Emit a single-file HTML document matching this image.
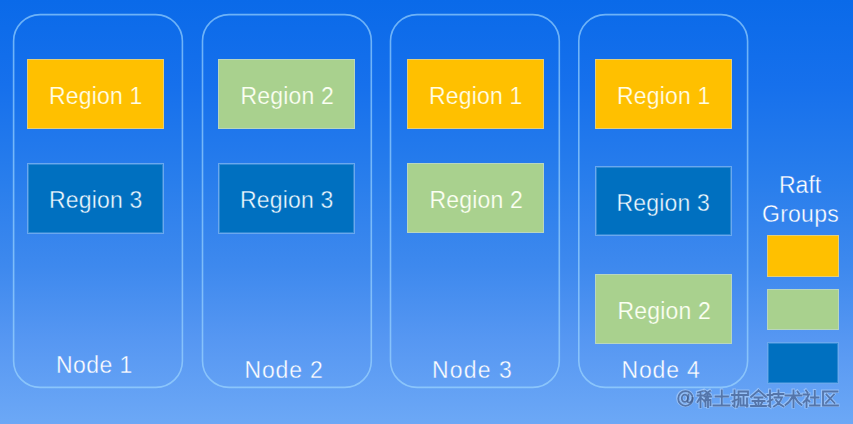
<!DOCTYPE html>
<html>
<head>
<meta charset="utf-8">
<style>
html,body{margin:0;padding:0;}
body{width:853px;height:424px;overflow:hidden;position:relative;
  background:linear-gradient(to bottom,rgb(10,106,233) 0%,rgb(22,112,236) 20%,rgb(41,126,236) 43%,rgb(62,137,238) 63%,rgb(86,151,242) 80%,rgb(108,168,246) 100%);
  font-family:"Liberation Sans",sans-serif;color:#fff;}
.node{position:absolute;top:14px;width:170px;height:374px;box-sizing:border-box;
  border:1.5px solid rgba(160,215,255,0.7);border-radius:27px;}
.box{position:absolute;width:137px;height:70px;box-sizing:border-box;border:1px solid rgba(200,220,240,0.5);}
.y{background:#ffc000;}
.g{background:#a9d18e;}
.b{background:#0070c0;border:1px solid #6aa8ee;box-shadow:inset 0 0 0 1px rgba(106,168,238,0.45);height:71px;}
.t{position:absolute;font-size:23px;line-height:23px;white-space:nowrap;}
.n{letter-spacing:0.85px;-webkit-text-stroke:0.35px rgb(93,157,243);}
.ty{-webkit-text-stroke:0.2px #ffc000;color:#fffee6;}
.tg{-webkit-text-stroke:0.2px #a9d18e;color:#fbfff2;}
.tb{-webkit-text-stroke:0.35px #0070c0;color:#eefaff;}
.tl{-webkit-text-stroke:0.35px rgb(45,128,236);}
</style>
</head>
<body>
<svg style="position:absolute;left:0;top:0" width="853" height="424">
<g fill="none" stroke="rgba(160,215,255,0.66)" stroke-width="1.6">
<rect x="13.6" y="14.6" width="168.8" height="372.8" rx="26.5"/>
<rect x="202.5" y="14.6" width="168.8" height="372.8" rx="26.5"/>
<rect x="390.5" y="14.6" width="168.8" height="372.8" rx="26.5"/>
<rect x="578.8" y="14.6" width="168.8" height="372.8" rx="26.5"/>
</g>
</svg>

<div class="box y" style="left:27px;top:59px"></div>
<div class="box b" style="left:27px;top:163px"></div>
<div class="box g" style="left:218px;top:59px"></div>
<div class="box b" style="left:218px;top:163px"></div>
<div class="box y" style="left:407px;top:59px"></div>
<div class="box g" style="left:407px;top:163px"></div>
<div class="box y" style="left:595px;top:59px"></div>
<div class="box b" style="left:595px;top:166px;height:70px"></div>
<div class="box g" style="left:595px;top:274px"></div>

<div class="t ty" style="left:48.9px;top:85px;letter-spacing:0.2px">Region 1</div>
<div class="t tb" style="left:48.9px;top:189px;letter-spacing:0.2px">Region 3</div>
<div class="t tg" style="left:240.4px;top:85px;letter-spacing:0.2px">Region 2</div>
<div class="t tb" style="left:239.9px;top:189px;letter-spacing:0.2px">Region 3</div>
<div class="t ty" style="left:428.9px;top:85px;letter-spacing:0.2px">Region 1</div>
<div class="t tg" style="left:429.4px;top:189px;letter-spacing:0.2px">Region 2</div>
<div class="t ty" style="left:616.9px;top:85px;letter-spacing:0.2px">Region 1</div>
<div class="t tb" style="left:616.4px;top:192px;letter-spacing:0.2px">Region 3</div>
<div class="t tg" style="left:617.4px;top:300px;letter-spacing:0.2px">Region 2</div>

<div class="t n" style="left:56px;top:354px;letter-spacing:0.45px">Node 1</div>
<div class="t n" style="left:244.5px;top:359px">Node 2</div>
<div class="t n" style="left:432px;top:359px;letter-spacing:1.15px">Node 3</div>
<div class="t n" style="left:621.5px;top:359px">Node 4</div>

<div class="t tl" style="left:779px;top:174px">Raft</div>
<div class="t tl" style="left:762px;top:203px;letter-spacing:0.25px">Groups</div>

<div class="box y" style="left:767px;top:235px;width:72px;height:42px"></div>
<div class="box g" style="left:767px;top:289px;width:72px;height:41px"></div>
<div class="box b" style="left:767px;top:342px;width:72px;height:42px"></div>

<svg style="position:absolute;left:0;top:0" width="853" height="424" viewBox="0 0 853 424">
<defs>
<g id="wm" fill="none" stroke-linecap="square">
<!-- @ -->
<circle cx="685.5" cy="398.5" r="7.3"/>
<path d="M688.5 394.5 L687.5 401.5 Q688 403 690 402.5 Q692.5 401 692.5 398"/>
<ellipse cx="684.8" cy="398.3" rx="3" ry="3.6"/>
<!-- 稀 -->
<path d="M703 391 L698 392.5 M697.5 395.5 H703.5 M700.5 392 V407 M700.5 397 L697.5 402 M700.5 397.5 L703.5 400"/>
<path d="M705 391 L710 394.5 M710 391 L705 394.5 M704.5 396.5 H711 M707.5 395 L704.5 401.5 M705.5 400 V406 M705.5 400 H710.5 V405 M708 398.5 V407"/>
<!-- 土 -->
<path d="M715.5 396.5 H728 M721.8 390.5 V405.5 M713.5 405.5 H729.5"/>
<!-- 掘 -->
<path d="M732 395 H737 M734.5 390.5 V406.5 L733 405.5 M732.5 401.5 L737 399.5"/>
<path d="M738.5 391.5 H748 V395 H738.5 M738.5 391.5 V400 Q738.5 405 737 407 M743.5 396.5 V405.5 M740.5 398.5 V405.5 H747.5 M747 398.5 V406.5"/>
<!-- 金 -->
<path d="M758.5 390.5 L751 397 M758.5 390.5 L766 397 M754.5 397.5 H762.5 M752.5 401 H764.5 M758.5 397.5 V406 M751 406 H766 M755 402.5 L756 404.5 M762 402.5 L761 404.5"/>
<!-- 技 -->
<path d="M767.5 395 H772.5 M770 390.5 V406.5 L768.5 405.5 M768 401.5 L772.5 399.5"/>
<path d="M773.5 394 H783.5 M778.5 390.5 V397.5 M774.5 397.5 H782 Q780 403 774 406.5 M776 400 Q779 404.5 783.5 406.5"/>
<!-- 术 -->
<path d="M785.5 395.5 H801.5 M793.5 390.5 V407 M793 396 Q790 402 785.5 405 M794 396 Q797 402 801.5 405 M797.5 391.5 L799 393.5"/>
<!-- 社 -->
<path d="M806 390.5 L807.5 392.5 M803.5 394.5 H809 Q807 399.5 803.5 402.5 M806.5 398.5 V407 M807 399.5 L809.5 401.5"/>
<path d="M811 397.5 H818.5 M814.8 391 V405.5 M810 405.5 H819.5"/>
<!-- 区 -->
<path d="M837.5 391.5 H823 V405.5 H838 M826.5 394.5 L834.5 403 M834 394.5 L826 403"/>
</g>
</defs>
<use href="#wm" x="-0.3" y="-0.3" stroke="rgba(185,215,252,0.6)" stroke-width="3.4"/>
<use href="#wm" stroke="rgba(58,88,138,0.72)" stroke-width="1.8"/>
</svg>
</body>
</html>
